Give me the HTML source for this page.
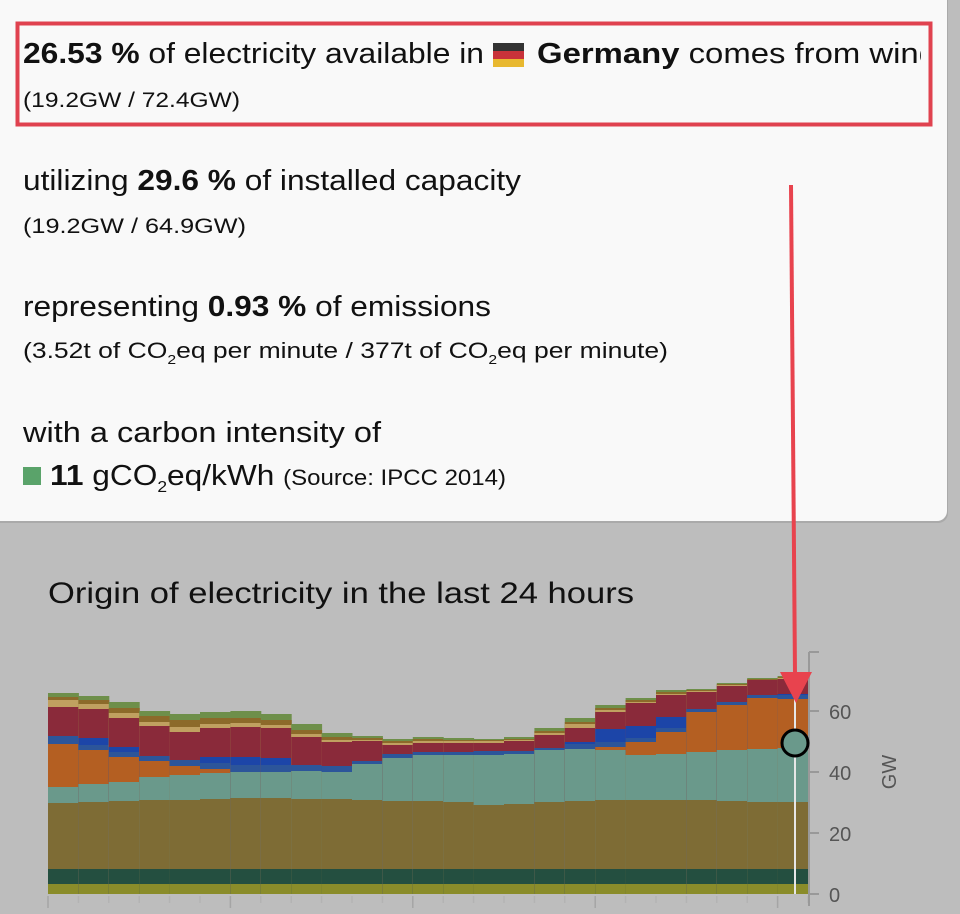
<!DOCTYPE html>
<html><head><meta charset="utf-8"><style>
html,body{margin:0;padding:0;background:#bdbdbd;}
svg{display:block;}
text{font-family:"Liberation Sans",sans-serif;}
</style></head><body>
<svg id="s" width="960" height="914" viewBox="0 0 960 914" xmlns="http://www.w3.org/2000/svg">
<rect x="0" y="0" width="960" height="914" fill="#bdbdbd"/>
<rect x="-10" y="-10" width="958" height="533" rx="10" fill="#aaaaaa"/>
<rect x="-10" y="-10" width="957" height="531" rx="10" fill="#f9f9f9"/>
<defs><clipPath id="c1"><rect x="0" y="0" width="921" height="120"/></clipPath></defs>
<g clip-path="url(#c1)">
<text x="23" y="63" font-size="29" fill="#111" textLength="461" lengthAdjust="spacingAndGlyphs"><tspan font-weight="bold">26.53 %</tspan> of electricity available in</text>
<rect x="493" y="43" width="31" height="8" fill="#333"/><rect x="493" y="51" width="31" height="8" fill="#c8323a"/><rect x="493" y="59" width="31" height="8" fill="#e8b830"/>
<text x="537" y="63" font-size="29" fill="#111" textLength="400" lengthAdjust="spacingAndGlyphs"><tspan font-weight="bold">Germany</tspan> comes from wind</text>
</g>
<text x="23" y="107" font-size="21" fill="#111" textLength="217" lengthAdjust="spacingAndGlyphs">(19.2GW / 72.4GW)</text>
<rect x="17.5" y="23.5" width="913" height="101" fill="none" stroke="#e0424f" stroke-width="4"/>
<text x="23" y="190" font-size="29" fill="#111" textLength="498" lengthAdjust="spacingAndGlyphs">utilizing <tspan font-weight="bold">29.6 %</tspan> of installed capacity</text>
<text x="23" y="233" font-size="21" fill="#111" textLength="223" lengthAdjust="spacingAndGlyphs">(19.2GW / 64.9GW)</text>
<text x="23" y="316" font-size="29" fill="#111" textLength="468" lengthAdjust="spacingAndGlyphs">representing <tspan font-weight="bold">0.93 %</tspan> of emissions</text>
<text x="23" y="358" font-size="22" fill="#111" textLength="645" lengthAdjust="spacingAndGlyphs">(3.52t of CO<tspan font-size="13" dy="6">2</tspan><tspan dy="-6">eq per minute / 377t of CO</tspan><tspan font-size="13" dy="6">2</tspan><tspan dy="-6">eq per minute)</tspan></text>
<text x="23" y="442" font-size="29" fill="#111" textLength="358" lengthAdjust="spacingAndGlyphs">with a carbon intensity of</text>
<rect x="23" y="467" width="18" height="18" fill="#5aa36a"/>
<text x="50" y="485" font-size="29" fill="#111" textLength="456" lengthAdjust="spacingAndGlyphs"><tspan font-weight="bold">11</tspan> gCO<tspan font-size="16" dy="7">2</tspan><tspan dy="-7">eq/kWh </tspan><tspan font-size="22">(Source: IPCC 2014)</tspan></text>
<text x="48" y="603" font-size="30" fill="#111" textLength="586" lengthAdjust="spacingAndGlyphs">Origin of electricity in the last 24 hours</text>
<g id="chart"></g>
<line x1="809" y1="652" x2="809" y2="906" stroke="#999" stroke-width="2"/>
<line x1="809" y1="652" x2="819" y2="652" stroke="#999" stroke-width="2"/>
<line x1="809" y1="711" x2="819" y2="711" stroke="#999" stroke-width="2"/>
<line x1="809" y1="772" x2="819" y2="772" stroke="#999" stroke-width="2"/>
<line x1="809" y1="833" x2="819" y2="833" stroke="#999" stroke-width="2"/>
<line x1="809" y1="894" x2="819" y2="894" stroke="#999" stroke-width="2"/>
<text x="829" y="719" font-size="20" fill="#555">60</text>
<text x="829" y="780" font-size="20" fill="#555">40</text>
<text x="829" y="841" font-size="20" fill="#555">20</text>
<text x="829" y="902" font-size="20" fill="#555">0</text>
<text transform="translate(896,772) rotate(-90)" font-size="20" fill="#555" text-anchor="middle">GW</text>
<line x1="795" y1="690" x2="795" y2="894" stroke="#e6e6e6" stroke-width="2"/>
<circle cx="795" cy="743" r="13" fill="#6a998b" stroke="#000" stroke-width="3"/>
<line x1="791" y1="185" x2="795" y2="675" stroke="#e8434e" stroke-width="4"/>
<polygon points="780,672 812,672 796,703" fill="#e8434e"/>
</svg>
<script>
var d=[
[693,697,700,707,736,736,744,787,803],
[696,700,704,709,738,745,750,784,802],
[702,708,713,718,747,752,757,782,801],
[711,716,722,726,756,756,761,777,800],
[714,720,727,732,760,760,766,775,800],
[712,718,724,728,757,763,769,773,799],
[711,718,723,727,757,765,772,772,798],
[714,720,725,728,758,765,772,772,798],
[724,730,734,737,765,765,771,771,799],
[733,737,740,742,766,766,772,772,799],
[736,738,740,741,761,761,764,764,800],
[739,741,743,745,754,754,758,758,801],
[737,739,741,743,752,752,755,755,801],
[738,740,741,743,752,752,755,755,802],
[739,740,741,743,751,751,755,755,805],
[737,739,740,741,751,751,754,754,804],
[728,731,733,735,748,748,750,750,802],
[718,722,724,728,742,744,749,749,801],
[705,708,710,712,729,742,747,750,800],
[698,700,702,703,726,738,742,755,800],
[690,692,694,695,717,728,732,754,800],
[689,690,691,692,709,709,712,752,800],
[683,684,685,686,702,702,705,750,801],
[678,679,680,680,695,695,698,749,802],
[676,677,678,679,694,695,699,748,802]];
var cols=["#6e8f4a","#8c6a2a","#c0a060","#8a2a3a","#1c45a8","#2c559a","#b45f22","#6a998b","#7e6c35"];
var g=document.getElementById("chart"),h="";
for(var i=0;i<25;i++){var x=48+i*30.4,w=30.9;
for(var k=0;k<9;k++){h+='<rect x="'+x+'" y="'+d[i][k]+'" width="'+w+'" height="'+(894-d[i][k])+'" fill="'+cols[k]+'"/>';}
h+='<rect x="'+x+'" y="869" width="'+w+'" height="25" fill="#244f40"/>';
h+='<rect x="'+x+'" y="884" width="'+w+'" height="10" fill="#8a8c2a"/>';}
for(var i=0;i<=25;i++){var x=48+i*30.4;var big=(i%6==0);
h+='<line x1="'+x+'" y1="896" x2="'+x+'" y2="'+(big?908:903)+'" stroke="'+(big?"#a5a5a5":"#b3b3b3")+'" stroke-width="1.5"/>';}
g.innerHTML=h;
</script>
</body></html>
